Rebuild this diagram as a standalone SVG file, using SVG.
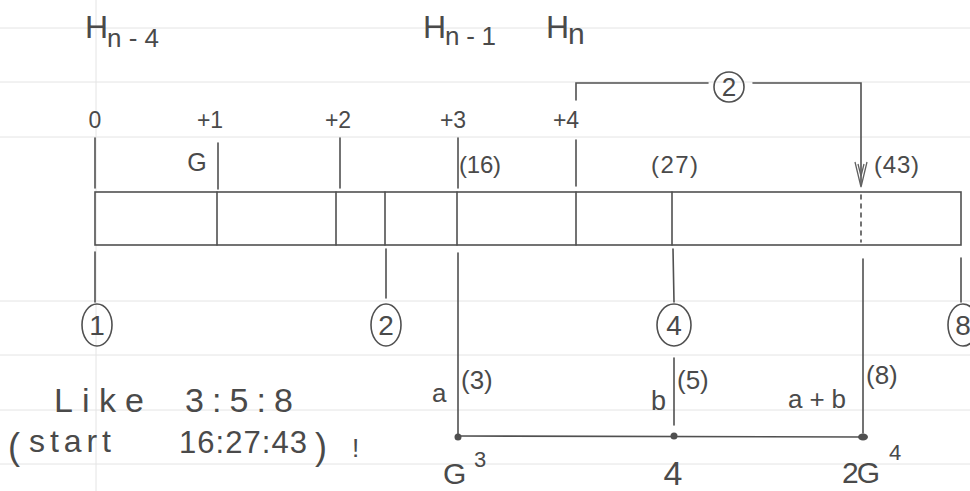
<svg xmlns="http://www.w3.org/2000/svg" width="970" height="491" viewBox="0 0 970 491">
<style>
.paper{stroke:#e4e4e4;stroke-width:1;fill:none}
.ln{stroke:#505050;stroke-width:1.6;fill:none;stroke-linecap:round}
.thin{stroke:#606060;stroke-width:1.3;fill:none}
.t{font-family:"Liberation Sans","DejaVu Sans",sans-serif;fill:#4a4a4a;font-weight:normal}
.c{stroke:#505050;stroke-width:1.6;fill:none}
.dot{fill:#505050}
</style>
<rect x="0" y="0" width="970" height="491" fill="#ffffff"/>
<g id="paper">
<line class="paper" x1="0" y1="28" x2="970" y2="28"/>
<line class="paper" x1="0" y1="82" x2="970" y2="82"/>
<line class="paper" x1="0" y1="137" x2="970" y2="137"/>
<line class="paper" x1="0" y1="301" x2="970" y2="301"/>
<line class="paper" x1="0" y1="355" x2="970" y2="355"/>
<line class="paper" x1="0" y1="410" x2="970" y2="410"/>
<line class="paper" x1="0" y1="464" x2="970" y2="464"/>
<line class="paper" x1="96" y1="0" x2="96" y2="491"/>
</g>

<g id="headers">
<g id="h-n-4"><text class="t" x="85" y="38" font-size="32">H</text><text class="t" x="107" y="47" font-size="26" textLength="52">n-4</text></g>
<g id="h-n-1"><text class="t" x="423" y="38" font-size="32">H</text><text class="t" x="445" y="45" font-size="26" textLength="51">n-1</text></g>
<g id="h-n"><text class="t" x="546" y="38" font-size="32">H</text><text class="t" x="568" y="44" font-size="30">n</text></g>
</g>

<g id="offsets">
<text class="t" x="95" y="128" font-size="23" text-anchor="middle">0</text>
<text class="t" x="210" y="128" font-size="23" text-anchor="middle">+1</text>
<text class="t" x="338" y="128" font-size="23" text-anchor="middle">+2</text>
<text class="t" x="453" y="128" font-size="23" text-anchor="middle">+3</text>
<text class="t" x="566" y="128" font-size="23" text-anchor="middle">+4</text>
<text class="t" x="197" y="171" font-size="25" text-anchor="middle">G</text>
<text class="t" x="459" y="173" font-size="24" textLength="42">(16)</text>
<text class="t" x="651" y="173" font-size="24" textLength="47">(27)</text>
<text class="t" x="874" y="173" font-size="24" textLength="45">(43)</text>
</g>

<g id="bar">
<rect class="ln" x="95" y="192" width="866" height="53"/>
<line class="ln" x1="217" y1="192" x2="217" y2="245"/>
<line class="ln" x1="336" y1="192" x2="336" y2="245"/>
<line class="ln" x1="385" y1="192" x2="385" y2="245"/>
<line class="ln" x1="457" y1="192" x2="457" y2="245"/>
<line class="ln" x1="576" y1="192" x2="576" y2="245"/>
<line class="ln" x1="672" y1="192" x2="672" y2="245"/>
<line class="ln" x1="861" y1="195" x2="861" y2="242" stroke-dasharray="4,5"/>
</g>

<g id="circle-1"><ellipse class="c" cx="97" cy="325" rx="15" ry="21"/><text class="t" x="97" y="335" font-size="28" text-anchor="middle">1</text></g>
<g id="circle-2"><ellipse class="c" cx="386" cy="325" rx="15" ry="21"/><text class="t" x="386" y="335" font-size="28" text-anchor="middle">2</text></g>
<g id="circle-4"><ellipse class="c" cx="674" cy="325" rx="17" ry="21"/><text class="t" x="674" y="335" font-size="28" text-anchor="middle">4</text></g>
<g id="circle-8"><ellipse class="c" cx="963" cy="325" rx="15" ry="21"/><text class="t" x="963" y="335" font-size="28" text-anchor="middle">8</text></g>
<g id="circle-top-2"><ellipse class="c" cx="729" cy="87" rx="15" ry="15"/><text class="t" x="729" y="96" font-size="26" text-anchor="middle">2</text></g>

<g id="dot-a"><circle class="dot" cx="458" cy="437" r="3.5"/></g>
<g id="dot-b"><circle class="dot" cx="674" cy="436" r="3.5"/></g>
<g id="dot-ab"><ellipse class="dot" cx="863" cy="437" rx="5" ry="3.5"/></g>

<g id="connectors">
<line class="ln" x1="95" y1="138" x2="95" y2="188"/>
<line class="ln" x1="218" y1="143" x2="218" y2="189"/>
<line class="ln" x1="340" y1="138" x2="340" y2="188"/>
<line class="ln" x1="458" y1="138" x2="458" y2="188"/>
<line class="ln" x1="576" y1="140" x2="576" y2="186"/>
<polyline class="ln" points="576,100 576,83 708,83"/>
<polyline class="ln" points="753,83 861,83 861,184"/>
<path class="thin" d="M855,162 L861,187 L867,162 M858,164 L861,176 L864,164"/>
<line class="ln" x1="95" y1="252" x2="95" y2="302"/>
<line class="ln" x1="386" y1="249" x2="386" y2="298"/>
<line class="ln" x1="673" y1="249" x2="674" y2="302"/>
<line class="ln" x1="961" y1="258" x2="961" y2="302"/>
<line class="ln" x1="458" y1="253" x2="458" y2="437"/>
<line class="ln" x1="674" y1="358" x2="674" y2="425"/>
<line class="ln" x1="863" y1="259" x2="863" y2="433"/>
<line class="ln" x1="458" y1="436" x2="863" y2="437"/>
</g>

<g id="labels">
<text class="t" x="432" y="402" font-size="26">a</text>
<text class="t" x="461" y="389" font-size="26">(3)</text>
<text class="t" x="651" y="410" font-size="27">b</text>
<text class="t" x="677" y="389" font-size="26">(5)</text>
<text class="t" x="788" y="408" font-size="26" textLength="58">a+b</text>
<text class="t" x="866" y="384" font-size="26">(8)</text>
<text class="t" x="443" y="484" font-size="30">G</text>
<text class="t" x="474" y="467" font-size="22">3</text>
<text class="t" x="673" y="485" font-size="34" text-anchor="middle">4</text>
<text class="t" x="842" y="483" font-size="30" textLength="38">2G</text>
<text class="t" x="889" y="460" font-size="22">4</text>
</g>

<g id="note">
<text class="t" x="54" y="412" font-size="34" textLength="90">Like</text>
<text class="t" x="185" y="412" font-size="34" textLength="108">3:5:8</text>
<text class="t" x="8" y="459" font-size="36">(</text>
<text class="t" x="29" y="452" font-size="32" textLength="82">start</text>
<text class="t" x="179" y="453" font-size="31" textLength="128">16:27:43</text>
<text class="t" x="315" y="459" font-size="36">)</text>
<text class="t" x="352" y="457" font-size="26">!</text>
</g>
</svg>
